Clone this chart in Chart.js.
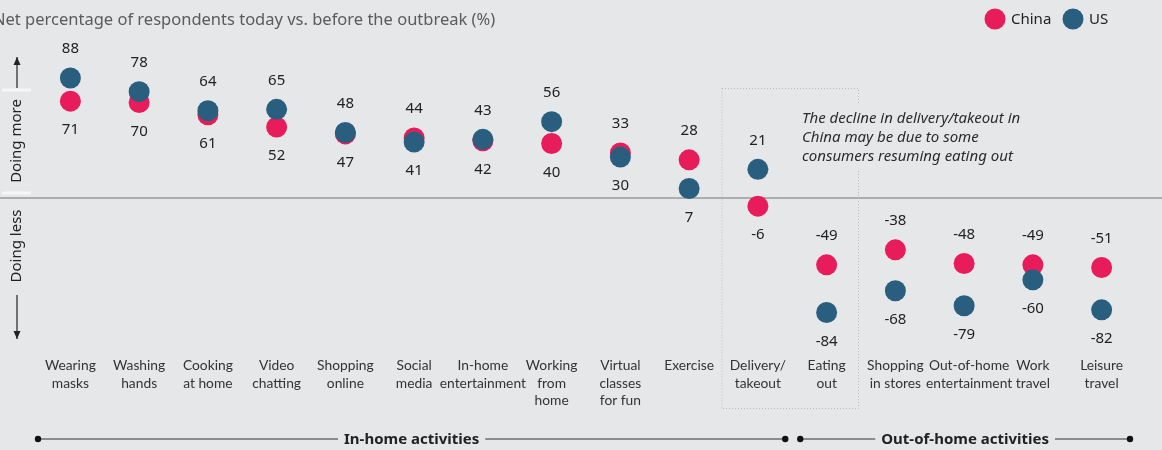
<!DOCTYPE html>
<html lang="en">
<head>
<meta charset="UTF-8">
<title>Activities today vs. before the outbreak</title>
<script src="https://cdn.jsdelivr.net/npm/chart.js"></script>
<style>
  html, body { margin: 0; padding: 0; background: #e6e7e9; }
  .wrap { position: relative; width: 1162px; height: 450px; overflow: hidden; }
</style>
</head>
<body>
<div class="wrap"><canvas id="chart" width="1162" height="450"></canvas></div>
<script>
  // Activities, in the order shown left to right
  const categories = [
    ['Wearing', 'masks'], ['Washing', 'hands'], ['Cooking', 'at home'], ['Video', 'chatting'],
    ['Shopping', 'online'], ['Social', 'media'], ['In-home', 'entertainment'], ['Working', 'from', 'home'],
    ['Virtual', 'classes', 'for fun'], ['Exercise'], ['Delivery/', 'takeout'], ['Eating', 'out'],
    ['Shopping', 'in stores'], ['Out-of-home', 'entertainment'], ['Work', 'travel'], ['Leisure', 'travel']
  ];
  const chinaValues = [71, 70, 61, 52, 47, 44, 42, 40, 33, 28, -6, -49, -38, -48, -49, -51];
  const usValues = [88, 78, 64, 65, 48, 41, 43, 56, 30, 7, 21, -84, -68, -79, -60, -82];
  const seriesNames = ['China', 'US'];
  const groupNames = ['In-home activities', 'Out-of-home activities'];
  const inHomeCount = 11;
  const noteLines = ['The decline in delivery/takeout in', 'China may be due to some', 'consumers resuming eating out'];
  const titleText = 'Net percentage of respondents today vs. before the outbreak (%)';

  const PINK = '#e81c5a';
  const BLUE = '#2a5e7f';
  const BG = '#e6e7e9';
  const FONT = '"Noto Sans", sans-serif';
  const NARROW = 'Lato, "Noto Sans", sans-serif';

  const decor = {
    id: 'decor',
    beforeDatasetsDraw(chart) {
      const ctx = chart.ctx;
      const x = chart.scales.x, y = chart.scales.y;
      const step = x.getPixelForValue(1) - x.getPixelForValue(0);
      const zeroY = y.getPixelForValue(0);
      ctx.save();

      // baseline
      ctx.strokeStyle = '#9a9a9a';
      ctx.lineWidth = 1.5;
      ctx.beginPath();
      ctx.moveTo(0, zeroY);
      ctx.lineTo(chart.width, zeroY);
      ctx.stroke();

      // dotted frame around delivery / eating out
      const bx0 = x.getPixelForValue(10) - step / 2 - 2;
      const bx1 = x.getPixelForValue(11) + step / 2 - 3;
      ctx.strokeStyle = '#b9b9b9';
      ctx.lineWidth = 1;
      ctx.setLineDash([1, 2]);
      ctx.strokeRect(bx0 + 0.5, 88.5, bx1 - bx0, 320);
      ctx.setLineDash([]);

      // note text sits on a plain patch over the frame
      ctx.fillStyle = BG;
      ctx.fillRect(bx1 - 60, 104, 230, 66);
      ctx.fillStyle = '#2b2b2b';
      ctx.font = 'italic 15px ' + FONT;
      ctx.textAlign = 'left';
      ctx.textBaseline = 'middle';
      noteLines.forEach((t, i) => ctx.fillText(t, 802, 119 + i * 19));

      ctx.restore();
    },
    afterDatasetsDraw(chart) {
      const ctx = chart.ctx;
      const x = chart.scales.x, y = chart.scales.y;
      const step = x.getPixelForValue(1) - x.getPixelForValue(0);
      ctx.save();

      // value labels: higher value above its dot, lower one below
      ctx.fillStyle = '#222';
      ctx.font = '15px ' + FONT;
      ctx.textAlign = 'center';
      ctx.textBaseline = 'middle';
      categories.forEach((c, i) => {
        const px = x.getPixelForValue(i);
        const hi = Math.max(chinaValues[i], usValues[i]);
        const lo = Math.min(chinaValues[i], usValues[i]);
        ctx.fillText(String(hi), px, y.getPixelForValue(hi) - 29);
        ctx.fillText(String(lo), px, y.getPixelForValue(lo) + 29);
      });

      // category names (the long out-of-home one is nudged right to clear its neighbour)
      ctx.fillStyle = '#333';
      ctx.font = '13.8px ' + NARROW;
      categories.forEach((c, i) => {
        const px = x.getPixelForValue(i) + (i === 13 ? 5 : 0);
        c.forEach((line, j) => ctx.fillText(line, px, 366 + j * 17.5));
      });

      // title
      ctx.fillStyle = '#5b5b5b';
      ctx.font = '16.5px ' + FONT;
      ctx.textAlign = 'left';
      ctx.fillText(titleText, -7, 20);

      // legend
      ctx.font = '15px ' + FONT;
      [[PINK, 995, seriesNames[0]], [BLUE, 1073, seriesNames[1]]].forEach(([col, cx, name]) => {
        ctx.fillStyle = col;
        ctx.beginPath();
        ctx.arc(cx, 19, 10.5, 0, Math.PI * 2);
        ctx.fill();
        ctx.fillStyle = '#222';
        ctx.fillText(name, cx + 16, 20);
      });

      // direction hints on the left
      ctx.strokeStyle = '#f6f6f6';
      ctx.lineWidth = 3;
      [90, 193].forEach(yy => {
        ctx.beginPath();
        ctx.moveTo(2, yy);
        ctx.lineTo(31, yy);
        ctx.stroke();
      });
      ctx.strokeStyle = '#222';
      ctx.fillStyle = '#222';
      ctx.lineWidth = 1.2;
      const arrow = (y0, y1) => {
        ctx.beginPath();
        ctx.moveTo(17, y0);
        ctx.lineTo(17, y1);
        ctx.stroke();
        const d = y1 < y0 ? 1 : -1;
        ctx.beginPath();
        ctx.moveTo(17, y1);
        ctx.lineTo(13.5, y1 + d * 8);
        ctx.lineTo(20.5, y1 + d * 8);
        ctx.closePath();
        ctx.fill();
      };
      arrow(88, 57);
      arrow(295, 339);
      ctx.font = '15px ' + FONT;
      ctx.textAlign = 'center';
      [['Doing more', 141], ['Doing less', 246]].forEach(([t, cy]) => {
        ctx.save();
        ctx.translate(17, cy);
        ctx.rotate(-Math.PI / 2);
        ctx.fillText(t, 0, 0);
        ctx.restore();
      });

      // group brackets along the bottom
      const groups = [
        [x.getPixelForValue(0) - step / 2 + 2, x.getPixelForValue(inHomeCount - 1) + step / 2 - 7, groupNames[0]],
        [x.getPixelForValue(inHomeCount) - step / 2 + 8, x.getPixelForValue(categories.length - 1) + step / 2 - 6, groupNames[1]]
      ];
      ctx.font = 'bold 15px ' + FONT;
      groups.forEach(([g0, g1, name]) => {
        const mid = (g0 + g1) / 2;
        const half = ctx.measureText(name).width / 2 + 6;
        ctx.strokeStyle = '#333';
        ctx.lineWidth = 1.2;
        ctx.beginPath();
        ctx.moveTo(g0, 439);
        ctx.lineTo(mid - half, 439);
        ctx.moveTo(mid + half, 439);
        ctx.lineTo(g1, 439);
        ctx.stroke();
        ctx.fillStyle = '#111';
        [g0, g1].forEach(gx => {
          ctx.beginPath();
          ctx.arc(gx, 439, 3.2, 0, Math.PI * 2);
          ctx.fill();
        });
        ctx.fillStyle = '#222';
        ctx.fillText(name, mid, 440);
      });

      ctx.restore();
    }
  };

  new Chart(document.getElementById('chart'), {
    type: 'line',
    data: {
      labels: categories.map(c => c.join(' ')),
      datasets: [
        {
          label: seriesNames[1],
          data: usValues,
          order: 0,
          showLine: false,
          pointRadius: 10.5,
          pointHoverRadius: 10.5,
          pointBackgroundColor: BLUE,
          pointBorderWidth: 0,
          borderColor: BLUE
        },
        {
          label: seriesNames[0],
          data: chinaValues,
          order: 1,
          showLine: false,
          pointRadius: 10.5,
          pointHoverRadius: 10.5,
          pointBackgroundColor: PINK,
          pointBorderWidth: 0,
          borderColor: PINK
        }
      ]
    },
    options: {
      responsive: false,
      animation: false,
      devicePixelRatio: 1,
      layout: { autoPadding: false, padding: { top: 48, bottom: 102, left: 36, right: 26 } },
      scales: {
        x: { type: 'category', offset: true, display: false },
        y: { min: -110, max: 110, display: false }
      },
      plugins: { legend: { display: false }, tooltip: { enabled: false } }
    },
    plugins: [decor]
  });
</script>
</body>
</html>
